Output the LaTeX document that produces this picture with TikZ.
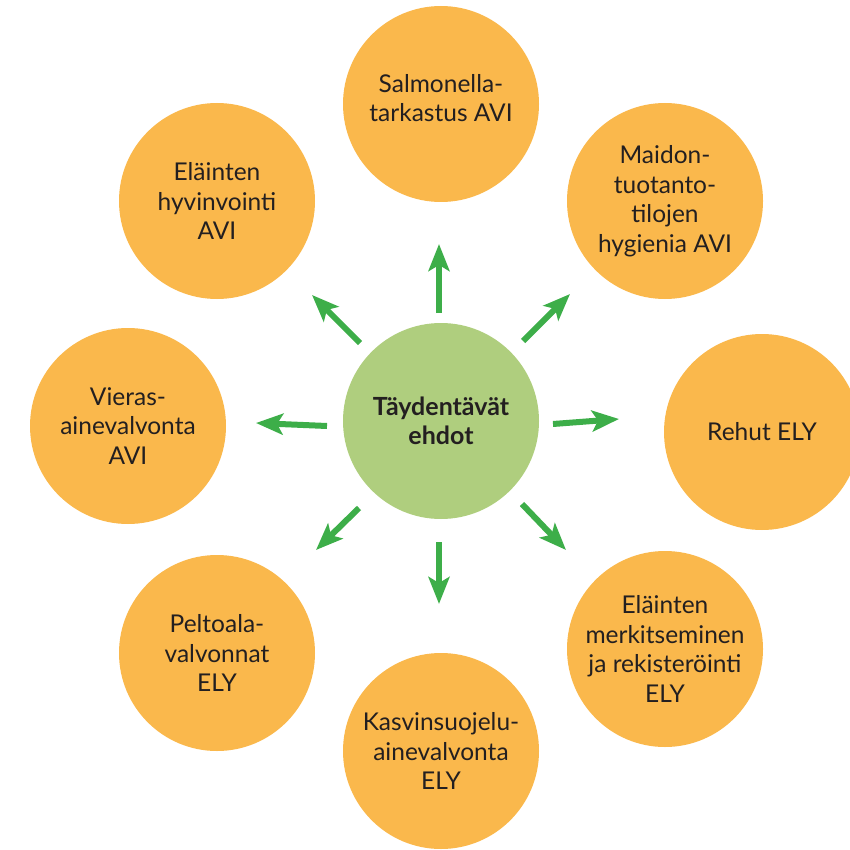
\documentclass[tikz,border=0pt]{standalone}
\usepackage{fontspec}
\setmainfont{Lato}
\usetikzlibrary{arrows.meta}
\definecolor{orangefill}{RGB}{250,184,76}
\definecolor{greenfill}{RGB}{175,206,126}
\definecolor{arrowgreen}{RGB}{61,174,73}
\definecolor{textdark}{RGB}{35,31,32}
\begin{document}
\begin{tikzpicture}[x=1pt,y=-1pt,
  outer/.style={circle,fill=orangefill,minimum size=196pt,inner sep=0pt,align=center,
    text=textdark,font=\fontsize{24.5}{29.5}\selectfont},
  hub/.style={circle,fill=greenfill,minimum size=196pt,inner sep=0pt,align=center,
    text=textdark,font=\fontsize{25}{29.5}\selectfont\bfseries},
  arr/.style={draw=arrowgreen,line width=6pt,
    -{Stealth[length=27pt,width=21pt,inset=6pt]}}]
\useasboundingbox (0,0) rectangle (849,850);
\node[hub] (c) at (441,421) {Täydentävät\\ehdot};
\node[outer] (n) at (441,104) {};
\node[align=center,text=textdark,font=\fontsize{24.5}{29.5}\selectfont] (nt) at (441,98) {Salmonella-\\tarkastus AVI};
\node[outer] (ne) at (665,201) {Maidon-\\tuotanto-\\tilojen\\hygienia AVI};
\node[outer] (e) at (762,432) {Rehut ELY};
\node[outer] (se) at (665,649) {Eläinten\\merkitseminen\\ja rekisteröinti\\ELY};
\node[outer] (s) at (441,751) {Kasvinsuojelu-\\ainevalvonta\\ELY};
\node[outer] (sw) at (217,653) {Peltoala-\\valvonnat\\ELY};
\node[outer] (w) at (128,426) {Vieras-\\ainevalvonta\\AVI};
\node[outer] (nw) at (217,201) {Eläinten\\hyvinvointi\\AVI};
\coordinate (tn) at (439,313);  \coordinate (hn) at (439,244);
\coordinate (tne) at (523,341); \coordinate (hne) at (570,294);
\coordinate (te) at (553,424);  \coordinate (he) at (619,419);
\coordinate (tse) at (522,504); \coordinate (hse) at (566,550);
\coordinate (ts) at (439,542);  \coordinate (hs) at (439,604);
\coordinate (tsw) at (359,508); \coordinate (hsw) at (316,550);
\coordinate (tw) at (327,426);  \coordinate (hw) at (256,423);
\coordinate (tnw) at (360,343); \coordinate (hnw) at (312,295);
\draw[arr] (tn) -- (hn);
\draw[arr] (tne) -- (hne);
\draw[arr] (te) -- (he);
\draw[arr] (tse) -- (hse);
\draw[arr] (ts) -- (hs);
\draw[arr] (tsw) -- (hsw);
\draw[arr] (tw) -- (hw);
\draw[arr] (tnw) -- (hnw);
\end{tikzpicture}
\end{document}
